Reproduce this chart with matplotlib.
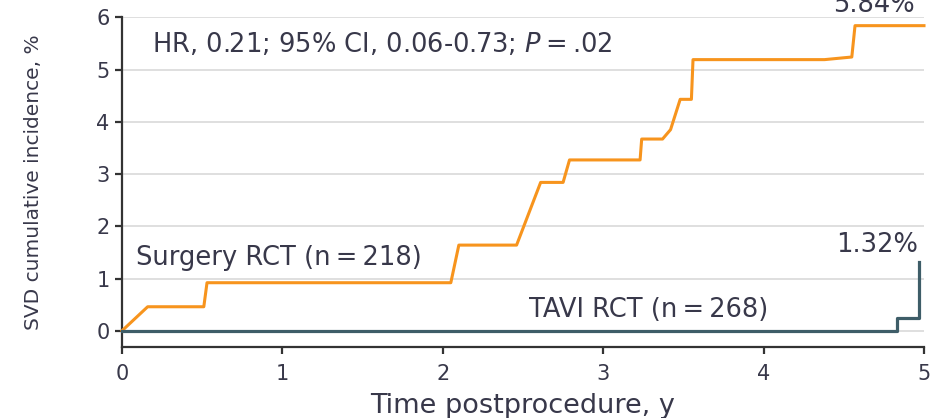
import matplotlib
matplotlib.use("Agg")
import matplotlib.pyplot as plt

# cumulative incidence
surgery_t = [0, 0.16, 0.51, 0.53, 2.05, 2.10, 2.46, 2.61, 2.75, 2.79, 3.23, 3.24,
             3.37, 3.42, 3.48, 3.55, 3.56, 4.38, 4.55, 4.57, 5.0]
surgery_y = [0, 0.46, 0.46, 0.92, 0.92, 1.64, 1.64, 2.84, 2.84, 3.27, 3.27, 3.67,
             3.67, 3.85, 4.43, 4.43, 5.19, 5.19, 5.24, 5.84, 5.84]
tavi_t = [0, 4.83, 4.83, 4.97, 4.97]
tavi_y = [0, 0, 0.24, 0.24, 1.32]

xticks = [0, 1, 2, 3, 4, 5]
yticks = [0, 1, 2, 3, 4, 5, 6]

orange = '#f7941d'
teal = '#3e5d68'
txt = '#38384a'

plt.rcParams['font.family'] = ['DejaVu Sans']

fig = plt.figure(figsize=(9.32, 4.18), dpi=100)
ax = fig.add_axes([0.1309, 0.1699, 0.8605, 0.7887])

for y in yticks:
    ax.axhline(y, color='#dcdcdc', lw=1.3, zorder=0)

ax.plot(surgery_t, surgery_y, color=orange, lw=2.2, clip_on=False, zorder=3)
ax.plot(tavi_t, tavi_y, color=teal, lw=2.3, clip_on=False, zorder=4)

ax.set_xlim(0, 5)
ax.set_ylim(-0.31, 6)
ax.set_xticks(xticks)
ax.set_yticks(yticks)
ax.spines['top'].set_visible(False)
ax.spines['right'].set_visible(False)
ax.spines['left'].set_bounds(-0.31, 6)
for s in ['left', 'bottom']:
    ax.spines[s].set_linewidth(1.6)
    ax.spines[s].set_color('#333333')
ax.tick_params(axis='both', direction='out', length=5, width=1.6, color='#333333',
               labelsize=15, labelcolor=txt)
ax.tick_params(axis='x', pad=7)
ax.tick_params(axis='y', pad=4)

ax.set_xlabel('Time postprocedure, y', fontsize=19.5, color=txt)
ax.xaxis.set_label_coords(0.5, -0.14)
ax.set_ylabel('SVD cumulative incidence, %', fontsize=14.5, color=txt)
ax.yaxis.set_label_coords(-0.099, 0.5)

fs = 18.5
ax.text(0.19, 5.345, 'HR, 0.21; 95% CI, 0.06-0.73; $\\it{P}$\u2009=\u2009.02',
        fontsize=fs, color=txt, va='baseline', ha='left')
ax.text(0.09, 1.26, 'Surgery RCT (n\u2009=\u2009218)', fontsize=fs, color=txt,
        va='baseline', ha='left')
ax.text(2.54, 0.27, 'TAVI RCT (n\u2009=\u2009268)', fontsize=fs, color=txt,
        va='baseline', ha='left')
ax.text(4.96, 1.50, '1.32%', fontsize=fs, color=txt, va='baseline', ha='right')
ax.text(4.944, 6.105, '5.84%', fontsize=fs, color=txt, va='baseline', ha='right',
        clip_on=False)

fig.savefig('out.png', dpi=100)
